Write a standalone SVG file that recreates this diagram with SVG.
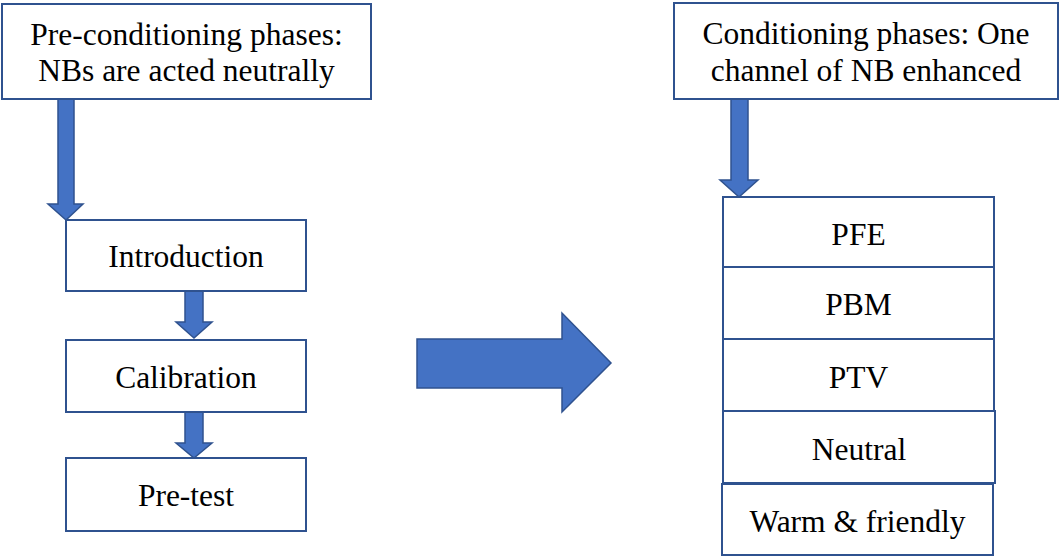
<svg xmlns="http://www.w3.org/2000/svg" width="1059" height="556" viewBox="0 0 1059 556">
<style>
.box{fill:#ffffff;stroke:#2F528F;stroke-width:2}
.arr{fill:#4472C4;stroke:#2F528F;stroke-width:1.5;stroke-linejoin:miter}
.t{font-size:31.5px;fill:#000000;text-anchor:middle}
</style>
<rect width="1059" height="556" fill="#ffffff"/>
<g id="connectors">
<path class="arr" d="M58,99 H74 V204 H83 L66,220 L48,204 H58 Z"/>
<path class="arr" d="M185,291 H203 V322 H212 L194,338 L176,322 H185 Z"/>
<path class="arr" d="M185,412 H203 V443 H212 L194,458 L176,443 H185 Z"/>
<path class="arr" d="M731,99 H748 V180 H758 L739,197 L720,180 H731 Z"/>
<path class="arr" d="M417,339 H562 V313 L611,363 L562,412 V388 H417 Z"/>
</g>
<g id="pre-conditioning">
<rect class="box" x="2" y="4" width="369" height="95"/>
<text class="t" font-family="Liberation Serif" x="186.5" y="45">Pre-conditioning phases:</text>
<text class="t" font-family="Liberation Serif" x="186.5" y="81">NBs are acted neutrally</text>
</g>
<g id="introduction">
<rect class="box" x="66" y="220" width="240" height="71"/>
<text class="t" font-family="Liberation Serif" x="186" y="267">Introduction</text>
</g>
<g id="calibration">
<rect class="box" x="66" y="340" width="240" height="72"/>
<text class="t" font-family="Liberation Serif" x="186" y="388">Calibration</text>
</g>
<g id="pre-test">
<rect class="box" x="66" y="458" width="240" height="73"/>
<text class="t" font-family="Liberation Serif" x="186" y="506">Pre-test</text>
</g>
<g id="conditioning">
<rect class="box" x="674" y="3" width="384" height="96"/>
<text class="t" font-family="Liberation Serif" x="866" y="44">Conditioning phases: One</text>
<text class="t" font-family="Liberation Serif" x="866" y="81">channel of NB enhanced</text>
</g>
<g id="pfe">
<rect class="box" x="723" y="197" width="271" height="70"/>
<text class="t" font-family="Liberation Serif" x="858.5" y="245">PFE</text>
</g>
<g id="pbm">
<rect class="box" x="723" y="267" width="271" height="72"/>
<text class="t" font-family="Liberation Serif" x="858.5" y="315">PBM</text>
</g>
<g id="ptv">
<rect class="box" x="723" y="339" width="271" height="72"/>
<text class="t" font-family="Liberation Serif" x="858.5" y="388">PTV</text>
</g>
<g id="neutral">
<rect class="box" x="723" y="411" width="272" height="72"/>
<text class="t" font-family="Liberation Serif" x="859" y="460">Neutral</text>
</g>
<g id="warm-friendly">
<rect class="box" x="722" y="484" width="271" height="71"/>
<text class="t" font-family="Liberation Serif" x="857.5" y="532">Warm &amp; friendly</text>
</g>
</svg>
